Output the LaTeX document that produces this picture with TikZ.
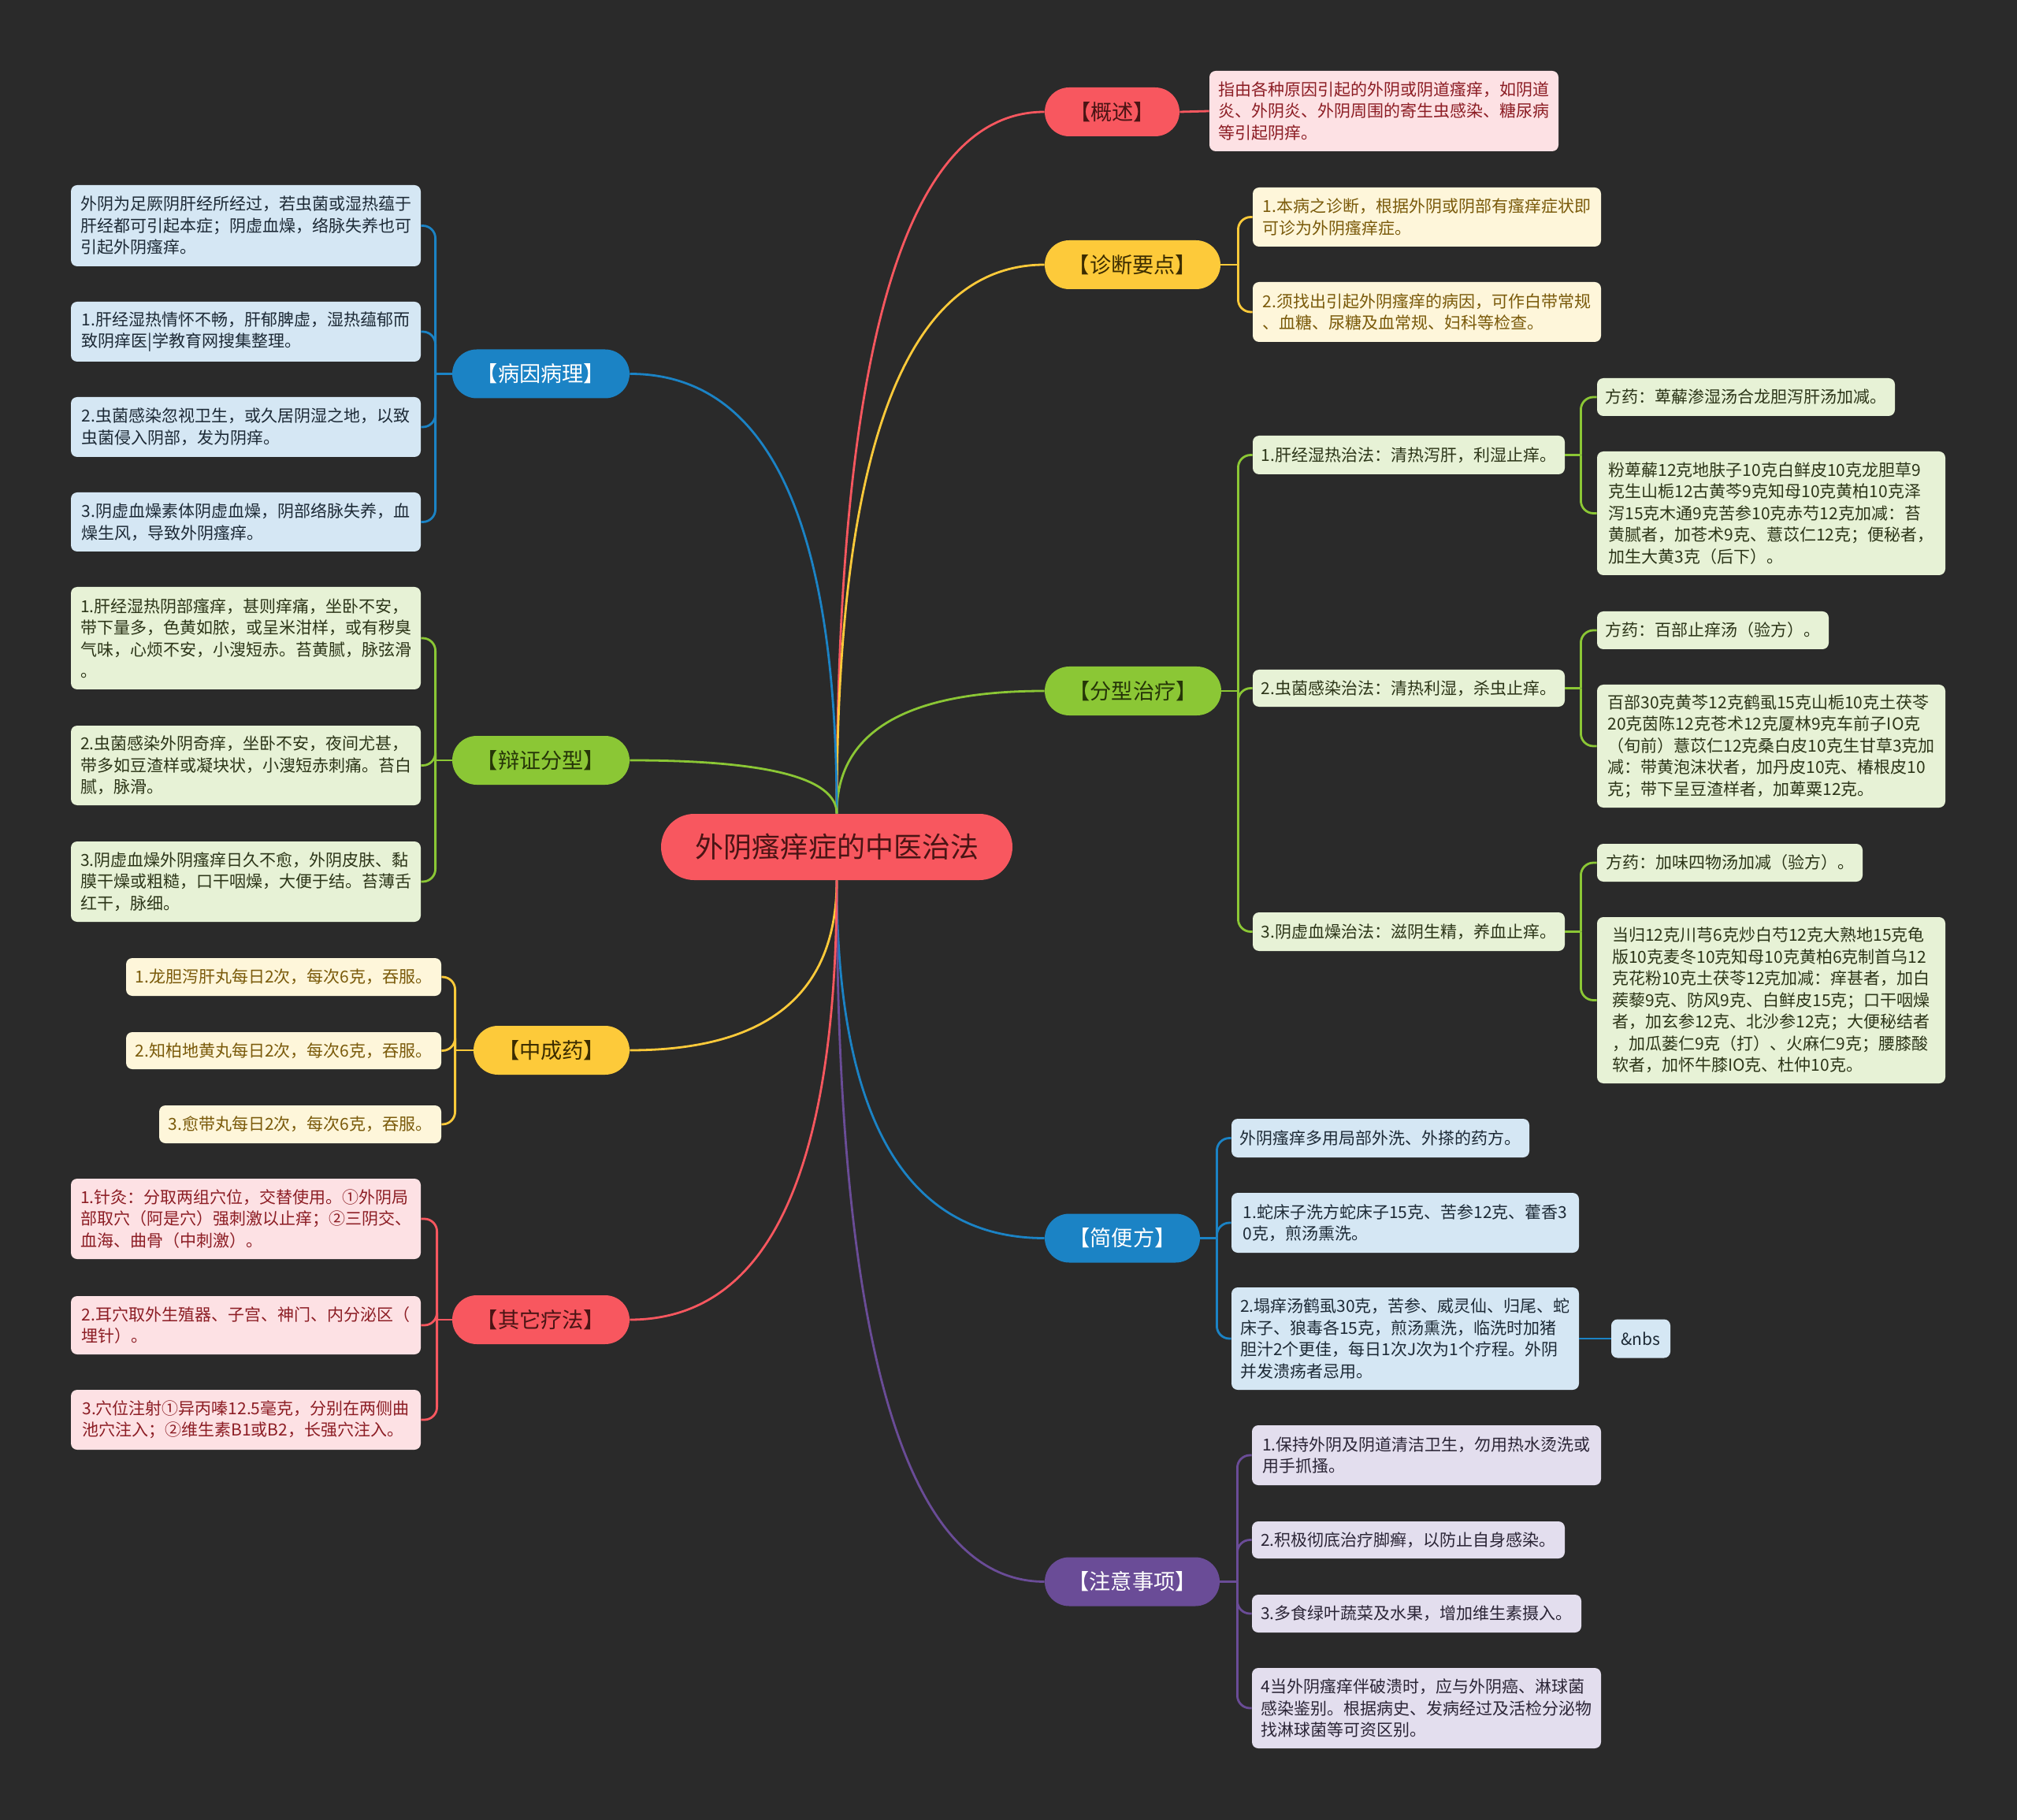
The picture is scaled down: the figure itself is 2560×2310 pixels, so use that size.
\documentclass[tikz,border=0pt]{standalone}
\usepackage{fontspec}
\setmainfont{Noto Sans CJK SC}
\usetikzlibrary{calc}
\definecolor{bg}{HTML}{2A2A2A}
\definecolor{redB}{HTML}{F8575F}
\definecolor{redT}{HTML}{4A1414}
\definecolor{pinkF}{HTML}{FDE1E4}
\definecolor{pinkT}{HTML}{8C1D24}
\definecolor{yelB}{HTML}{FDCA3A}
\definecolor{yelT}{HTML}{3B2C00}
\definecolor{creamF}{HTML}{FEF6DA}
\definecolor{creamT}{HTML}{7A5A0A}
\definecolor{grnB}{HTML}{8BC735}
\definecolor{grnT}{HTML}{263608}
\definecolor{lgrnF}{HTML}{E7F2D6}
\definecolor{lgrnT}{HTML}{2C3518}
\definecolor{bluB}{HTML}{1B83C5}
\definecolor{lbluF}{HTML}{D5E7F4}
\definecolor{lbluT}{HTML}{1D2A36}
\definecolor{purB}{HTML}{6A4C97}
\definecolor{lpurF}{HTML}{E3DEEE}
\definecolor{lpurT}{HTML}{2B2536}
\newcommand\qlink[3]{\draw[lk,#1] (#2) .. controls ($(#2)!0.6667!(#2|-#3)$) and ($(#3)!0.6667!(#2|-#3)$) .. (#3);}
\newcommand\rbr[4]{%
  \coordinate (tmp) at ($(#2.east)+(#3,0)$);
  \draw[lk,#1] (#2.east) -- (tmp);
  \foreach \l in {#4} {\draw[lk,#1,rounded corners=8pt] (tmp) |- (\l.west);}%
}
\newcommand\lbr[4]{%
  \coordinate (tmp) at ($(#2.west)+(-#3,0)$);
  \draw[lk,#1] (#2.west) -- (tmp);
  \foreach \l in {#4} {\draw[lk,#1,rounded corners=8pt] (tmp) |- (\l.east);}%
}
\begin{document}
\begin{tikzpicture}[x=0.5pt,y=-0.5pt,
  lk/.style={line width=1.4pt},
  sz/.style 2 args={minimum width=#1*0.5pt, minimum height=#2*0.5pt},
  leaf/.style={rounded corners=4pt, inner sep=0pt, align=left, font=\fontsize{10.5}{13.75}\selectfont},
  lR/.style={leaf, fill=pinkF, text=pinkT},
  lY/.style={leaf, fill=creamF, text=creamT},
  lG/.style={leaf, fill=lgrnF, text=lgrnT},
  lB/.style={leaf, fill=lbluF, text=lbluT},
  lP/.style={leaf, fill=lpurF, text=lpurT},
  branch/.style={rounded corners=15.5pt, inner sep=0pt, font=\fontsize{13.6}{16}\selectfont},
  bR/.style={branch, fill=redB, text=redT},
  bY/.style={branch, fill=yelB, text=yelT},
  bG/.style={branch, fill=grnB, text=grnT},
  bB/.style={branch, fill=bluB, text=white},
  bP/.style={branch, fill=purB, text=white},
  rootnode/.style={rounded corners=21pt, inner sep=0pt, fill=redB, text=redT, font=\fontsize{18}{20}\selectfont}
]
\useasboundingbox (0,0) rectangle (2560,2310);
\fill[bg] (0,0) rectangle (2560,2310);

% root
\node[rootnode, sz={446}{84}] (root) at (1062,1075) {外阴瘙痒症的中医治法};

% branches right
\node[bR, sz={171}{62}] (bgs) at (1411.5,142) {【概述】};
\node[bY, sz={223}{62}] (bzd) at (1437.5,336) {【诊断要点】};
\node[bG, sz={224}{62}] (bfx) at (1438,877) {【分型治疗】};
\node[bB, sz={197}{62}] (bjb) at (1424.5,1571.5) {【简便方】};
\node[bP, sz={222}{62}] (bzy) at (1437,2007.5) {【注意事项】};
% branches left
\node[bB, sz={225}{62}] (bby) at (686.5,474.5) {【病因病理】};
\node[bG, sz={225}{62}] (bbz) at (686.5,965) {【辩证分型】};
\node[bY, sz={198}{62}] (bzc) at (700,1333) {【中成药】};
\node[bR, sz={225}{62}] (bqt) at (686.5,1675) {【其它疗法】};

% leaves: overview
\node[lR, sz={443}{102}] (ov1) at (1756.5,141) {指由各种原因引起的外阴或阴道瘙痒，如阴道\\炎、外阴炎、外阴周围的寄生虫感染、糖尿病\\等引起阴痒。};
% diagnosis
\node[lY, sz={442}{75}] (dg1) at (1811,275.5) {1.本病之诊断，根据外阴或阴部有瘙痒症状即\\可诊为外阴瘙痒症。};
\node[lY, sz={442}{76}] (dg2) at (1811,396) {2.须找出引起外阴瘙痒的病因，可作白带常规\\、血糖、尿糖及血常规、妇科等检查。};
% treatment
\node[lG, sz={396}{49}] (fx1) at (1788,577.5) {1.肝经湿热治法：清热泻肝，利湿止痒。};
\node[lG, sz={396}{47}] (fx2) at (1788,873.5) {2.虫菌感染治法：清热利湿，杀虫止痒。};
\node[lG, sz={396}{49}] (fx3) at (1788,1182.5) {3.阴虚血燥治法：滋阴生精，养血止痒。};
\node[lG, sz={378}{48}] (fx1a) at (2216,504) {方药：萆薢渗湿汤合龙胆泻肝汤加减。};
\node[lG, sz={442}{157}] (fx1b) at (2248,651.5) {粉萆薢12克地肤子10克白鲜皮10克龙胆草9\\克生山栀12古黄芩9克知母10克黄柏10克泽\\泻15克木通9克苦参10克赤芍12克加减：苔\\黄腻者，加苍术9克、薏苡仁12克；便秘者，\\加生大黄3克（后下）。};
\node[lG, sz={294}{48}] (fx2a) at (2174,800) {方药：百部止痒汤（验方）。};
\node[lG, sz={442}{156}] (fx2b) at (2248,947) {百部30克黄芩12克鹤虱15克山栀10克土茯苓\\20克茵陈12克苍术12克厦林9克车前子IO克\\（旬前）薏苡仁12克桑白皮10克生甘草3克加\\减：带黄泡沫状者，加丹皮10克、椿根皮10\\克；带下呈豆渣样者，加萆粟12克。};
\node[lG, sz={337}{48}] (fx3a) at (2195.5,1095) {方药：加味四物汤加减（验方）。};
\node[lG, sz={442}{211}] (fx3b) at (2248,1269.5) {当归12克川芎6克炒白芍12克大熟地15克龟\\版10克麦冬10克知母10克黄柏6克制首乌12\\克花粉10克土茯苓12克加减：痒甚者，加白\\蒺藜9克、防风9克、白鲜皮15克；口干咽燥\\者，加玄参12克、北沙参12克；大便秘结者\\，加瓜蒌仁9克（打）、火麻仁9克；腰膝酸\\软者，加怀牛膝IO克、杜仲10克。};
% simple prescriptions
\node[lB, sz={378}{49}] (jb1) at (1752,1444.5) {外阴瘙痒多用局部外洗、外搽的药方。};
\node[lB, sz={441}{76}] (jb2) at (1783.5,1552) {1.蛇床子洗方蛇床子15克、苦参12克、藿香3\\0克，煎汤熏洗。};
\node[lB, sz={441}{130}] (jb3) at (1783.5,1699) {2.塌痒汤鹤虱30克，苦参、威灵仙、归尾、蛇\\床子、狼毒各15克，煎汤熏洗，临洗时加猪\\胆汁2个更佳，每日1次J次为1个疗程。外阴\\并发溃疡者忌用。};
\node[lB, sz={75}{49}] (jb3a) at (2082.5,1699) {\&nbs};
% notes
\node[lP, sz={443}{76}] (zy1) at (1810.5,1847) {1.保持外阴及阴道清洁卫生，勿用热水烫洗或\\用手抓搔。};
\node[lP, sz={397}{47}] (zy2) at (1787.5,1954.5) {2.积极彻底治疗脚癣，以防止自身感染。};
\node[lP, sz={418}{48}] (zy3) at (1798,2048) {3.多食绿叶蔬菜及水果，增加维生素摄入。};
\node[lP, sz={443}{102}] (zy4) at (1810.5,2168) {4当外阴瘙痒伴破溃时，应与外阴癌、淋球菌\\感染鉴别。根据病史、发病经过及活检分泌物\\找淋球菌等可资区别。};

% left leaves: etiology
\node[lB, sz={444}{103}] (by0) at (312,286.5) {外阴为足厥阴肝经所经过，若虫菌或湿热蕴于\\肝经都可引起本症；阴虚血燥，络脉失养也可\\引起外阴瘙痒。};
\node[lB, sz={444}{76}] (by1) at (312,421) {1.肝经湿热情怀不畅，肝郁脾虚，湿热蕴郁而\\致阴痒医|学教育网搜集整理。};
\node[lB, sz={444}{76}] (by2) at (312,542) {2.虫菌感染忽视卫生，或久居阴湿之地，以致\\虫菌侵入阴部，发为阴痒。};
\node[lB, sz={444}{75}] (by3) at (312,662.5) {3.阴虚血燥素体阴虚血燥，阴部络脉失养，血\\燥生风，导致外阴瘙痒。};
% syndrome types
\node[lG, sz={444}{130}] (bz1) at (312,810) {1.肝经湿热阴部瘙痒，甚则痒痛，坐卧不安，\\带下量多，色黄如脓，或呈米泔样，或有秽臭\\气味，心烦不安，小溲短赤。苔黄腻，脉弦滑\\。};
\node[lG, sz={444}{101}] (bz2) at (312,971.5) {2.虫菌感染外阴奇痒，坐卧不安，夜间尤甚，\\带多如豆渣样或凝块状，小溲短赤刺痛。苔白\\腻，脉滑。};
\node[lG, sz={444}{102}] (bz3) at (312,1119) {3.阴虚血燥外阴瘙痒日久不愈，外阴皮肤、黏\\膜干燥或粗糙，口干咽燥，大便于结。苔薄舌\\红干，脉细。};
% patent medicines
\node[lY, sz={400}{48}] (zc1) at (360,1240) {1.龙胆泻肝丸每日2次，每次6克，吞服。};
\node[lY, sz={400}{47}] (zc2) at (360,1333.5) {2.知柏地黄丸每日2次，每次6克，吞服。};
\node[lY, sz={358}{48}] (zc3) at (381,1427) {3.愈带丸每日2次，每次6克，吞服。};
% other therapies
\node[lR, sz={444}{102}] (qt1) at (312,1547) {1.针灸：分取两组穴位，交替使用。①外阴局\\部取穴（阿是穴）强刺激以止痒；②三阴交、\\血海、曲骨（中刺激）。};
\node[lR, sz={444}{74}] (qt2) at (312,1682) {2.耳穴取外生殖器、子宫、神门、内分泌区（\\埋针）。};
\node[lR, sz={444}{76}] (qt3) at (312,1802) {3.穴位注射①异丙嗪12.5毫克，分别在两侧曲\\池穴注入；②维生素B1或B2，长强穴注入。};

% main connectors
\qlink{redB}{root.north}{bgs.west}
\qlink{yelB}{root.north}{bzd.west}
\qlink{grnB}{root.north}{bfx.west}
\qlink{bluB}{root.south}{bjb.west}
\qlink{purB}{root.south}{bzy.west}
\qlink{bluB}{root.north}{bby.east}
\qlink{grnB}{root.north}{bbz.east}
\qlink{yelB}{root.south}{bzc.east}
\qlink{redB}{root.south}{bqt.east}

% sub connectors
\draw[lk,redB] (bgs.east) -- (ov1.west);
\rbr{yelB}{bzd}{22}{dg1,dg2}
\rbr{grnB}{bfx}{21}{fx1,fx2,fx3}
\rbr{grnB}{fx1}{20}{fx1a,fx1b}
\rbr{grnB}{fx2}{20}{fx2a,fx2b}
\rbr{grnB}{fx3}{20}{fx3a,fx3b}
\rbr{bluB}{bjb}{21}{jb1,jb2,jb3}
\draw[lk,bluB] (jb3.east) -- (jb3a.west);
\rbr{purB}{bzy}{22}{zy1,zy2,zy3,zy4}
\lbr{bluB}{bby}{21}{by0,by1,by2,by3}
\lbr{grnB}{bbz}{21}{bz1,bz2,bz3}
\lbr{yelB}{bzc}{23}{zc1,zc2,zc3}
\lbr{redB}{bqt}{19}{qt1,qt2,qt3}
\end{tikzpicture}
\end{document}
